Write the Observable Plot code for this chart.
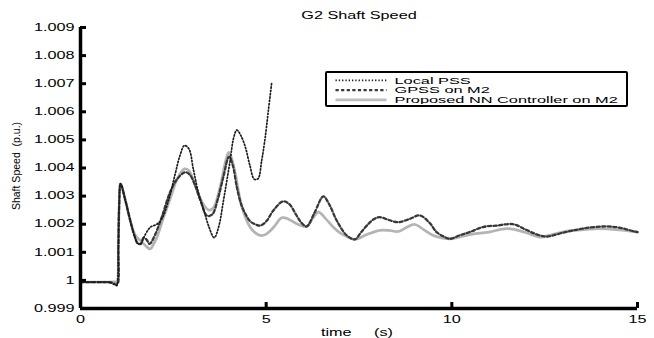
<!DOCTYPE html>
<html><head><meta charset="utf-8">
<script src="https://cdn.jsdelivr.net/npm/d3@7"></script>
<script src="https://cdn.jsdelivr.net/npm/@observablehq/plot@0.6"></script>
<style>
body{margin:0;background:#fff;}
#wrap{position:relative;width:654px;height:338px;font-family:"Liberation Sans",Arial,sans-serif;}
#legend{position:absolute;left:325px;top:71px;width:303px;height:36px;border:2.5px solid #000;border-radius:2px;box-sizing:border-box;overflow:hidden;background:#fff;}
#legend svg{display:block;}
</style></head><body><div id="wrap"><div id="chart"></div><div id="legend"></div></div>
<script>
const title = "G2 Shaft Speed";
const xLabel = "time\u00a0\u00a0\u00a0\u00a0\u00a0(s)";
const yLabel = "Shaft Speed\u00a0\u00a0(p.u.)";
const seriesNames = ["Local PSS", "GPSS on M2", "Proposed NN Controller on M2"];
const xDomain = [0, 15];
const yDomain = [0.999, 1.009];
const xTicks = [0, 5, 10, 15];
const yTicks = [0.999, 1.000, 1.001, 1.002, 1.003, 1.004, 1.005, 1.006, 1.007, 1.008, 1.009];

const localPSS = [[0,0.99994],[0.5,0.99994],[0.8,0.99993],[0.9,0.99986],[0.98,0.99982],[1.0,0.99995],[1.02,1.0012],[1.04,1.0026],[1.08,1.00344],[1.21,1.00284],[1.34,1.00213],[1.45,1.0016],[1.54,1.00132],[1.62,1.0013],[1.7,1.00152],[1.88,1.00189],[2.06,1.002],[2.19,1.00219],[2.37,1.00284],[2.55,1.00379],[2.68,1.00445],[2.8,1.0048],[2.92,1.00468],[3.04,1.00395],[3.18,1.0031],[3.32,1.0025],[3.46,1.0019],[3.6,1.00152],[3.72,1.0019],[3.85,1.00284],[4.03,1.00427],[4.12,1.00505],[4.21,1.00535],[4.32,1.00515],[4.44,1.00474],[4.56,1.0041],[4.68,1.0036],[4.78,1.00362],[4.88,1.00427],[4.97,1.00505],[5.06,1.00605],[5.15,1.00705]];

const gpssM2 = [[0,0.99994],[0.5,0.99994],[0.85,0.99992],[0.95,0.99986],[1.0,0.99988],[1.02,1.0012],[1.04,1.0026],[1.08,1.00344],[1.21,1.00284],[1.34,1.00213],[1.45,1.0016],[1.54,1.00132],[1.62,1.0013],[1.7,1.00152],[1.78,1.00145],[1.86,1.0013],[2.0,1.0016],[2.2,1.0023],[2.4,1.0031],[2.6,1.0036],[2.82,1.00385],[2.95,1.00375],[3.08,1.0034],[3.23,1.00284],[3.41,1.0023],[3.55,1.00235],[3.7,1.0029],[3.85,1.0037],[4.0,1.0044],[4.1,1.0041],[4.21,1.00332],[4.33,1.0027],[4.44,1.00237],[4.57,1.0021],[4.7,1.002],[4.84,1.00195],[5.0,1.0021],[5.2,1.0025],[5.45,1.00281],[5.62,1.00272],[5.8,1.00235],[5.95,1.00205],[6.09,1.00192],[6.3,1.0024],[6.54,1.00299],[6.7,1.0027],[6.9,1.00213],[7.17,1.0016],[7.39,1.00146],[7.55,1.0017],[7.71,1.00195],[7.9,1.00218],[8.06,1.00225],[8.3,1.00215],[8.56,1.00207],[8.85,1.00218],[9.14,1.00231],[9.4,1.00205],[9.59,1.00172],[9.8,1.00155],[9.95,1.00148],[10.2,1.0016],[10.48,1.00172],[10.84,1.0019],[11.2,1.00195],[11.65,1.002],[12.0,1.0018],[12.3,1.00163],[12.55,1.00156],[13.0,1.0017],[13.35,1.0018],[13.7,1.00188],[14.16,1.00192],[14.5,1.00188],[14.92,1.00174],[15,1.00172]];

const nnM2 = [[0,0.99994],[0.5,0.99994],[0.9,0.99995],[0.98,0.99996],[1.0,1.0],[1.02,1.0012],[1.04,1.0026],[1.08,1.00344],[1.21,1.00284],[1.34,1.00213],[1.48,1.0016],[1.66,1.00136],[1.78,1.0012],[1.88,1.00112],[1.97,1.0013],[2.06,1.00154],[2.24,1.00225],[2.46,1.00308],[2.6,1.0036],[2.8,1.00397],[2.92,1.0039],[3.04,1.00356],[3.2,1.003],[3.32,1.00268],[3.46,1.0025],[3.58,1.00258],[3.76,1.00332],[3.9,1.0042],[3.99,1.00456],[4.08,1.0043],[4.17,1.00379],[4.35,1.0026],[4.57,1.00189],[4.7,1.0017],[4.84,1.0016],[4.98,1.00163],[5.2,1.00189],[5.42,1.00223],[5.6,1.00218],[5.85,1.002],[6.09,1.00192],[6.25,1.0022],[6.41,1.00243],[6.6,1.0022],[6.81,1.00189],[7.0,1.00168],[7.17,1.00156],[7.39,1.00146],[7.71,1.00163],[8.06,1.00178],[8.3,1.00178],[8.56,1.00174],[8.8,1.0019],[9.0,1.00199],[9.25,1.0018],[9.5,1.0016],[9.95,1.00148],[10.48,1.00163],[11.0,1.00172],[11.5,1.00184],[12.0,1.0017],[12.37,1.00154],[12.7,1.00163],[13.08,1.00175],[13.5,1.0018],[13.98,1.00184],[14.5,1.0018],[15,1.00172]];

const styles = [
  {stroke:"#1c1c1c", strokeWidth:1.7, strokeDasharray:"1.3,2"},
  {stroke:"#383838", strokeWidth:2.3, strokeDasharray:"3.2,2.4"},
  {stroke:"#b4b4b4", strokeWidth:2.7, strokeDasharray:null}
];
const toRows = arr => arr.map(([t, v]) => ({t, v}));
const lineOpts = i => ({x:"t", y:"v", curve:"catmull-rom", stroke:styles[i].stroke, strokeWidth:styles[i].strokeWidth, ...(styles[i].strokeDasharray ? {strokeDasharray:styles[i].strokeDasharray} : {})});

const plot = Plot.plot({
  width:654, height:338, marginLeft:80, marginRight:17, marginTop:27, marginBottom:30,
  style:{fontFamily:"'Liberation Sans', Arial, sans-serif", fontSize:"10px", color:"#000", background:"#fff"},
  x:{domain:xDomain}, y:{domain:yDomain},
  marks:[
    Plot.line(toRows(nnM2), lineOpts(2)),
    Plot.line(toRows(gpssM2), lineOpts(1)),
    Plot.line(toRows(localPSS), lineOpts(0)),
    Plot.ruleX([xDomain[0]], {stroke:"#000", strokeWidth:3.5}),
    Plot.ruleY([yDomain[0]], {stroke:"#000", strokeWidth:3.5}),
    Plot.axisY(yTicks, {tickSize:-6, tickPadding:12, strokeWidth:3, stroke:"#000", fill:"#000", label:null, tickFormat:d => d === 1 ? "1" : d.toFixed(3)}),
    Plot.axisX(xTicks, {tickSize:-6, tickPadding:13, strokeWidth:3, stroke:"#000", fill:"#000", label:null, tickFormat:d => String(d)}),
    Plot.text([title], {frameAnchor:"top", textAnchor:"middle", lineAnchor:"middle", dy:-12, fill:"#000", fontSize:10}),
    Plot.text([xLabel], {frameAnchor:"bottom", textAnchor:"middle", lineAnchor:"middle", dy:24, dx:-2, fill:"#000", fontSize:10}),
    Plot.text([yLabel], {frameAnchor:"left", textAnchor:"middle", lineAnchor:"middle", dx:-64, dy:-2, rotate:-90, fill:"#000", fontSize:10.5})
  ]
});
document.getElementById("chart").appendChild(plot);

function stretch(root, k){
  root.querySelectorAll("text").forEach(t => {
    if (t.textContent === yLabel) return;
    const len = t.getComputedTextLength();
    if (!len) return;
    t.setAttribute("textLength", len * k);
    t.setAttribute("lengthAdjust", "spacingAndGlyphs");
  });
}
stretch(plot, 1.62);

// legend
const lg = d3.select("#legend").append("svg").attr("width", 298).attr("height", 31)
  .style("font-family", "'Liberation Sans', Arial, sans-serif").style("font-size", "8.6px");
const baseY = [10.6, 20.3, 30.0];
seriesNames.forEach((name, i) => {
  const s = styles[i];
  lg.append("line").attr("x1", 8.5).attr("x2", 59.5).attr("y1", baseY[i] - 3.2).attr("y2", baseY[i] - 3.2)
    .attr("stroke", i === 2 ? "#bdbdbd" : s.stroke).attr("stroke-width", s.strokeWidth)
    .attr("stroke-dasharray", s.strokeDasharray);
  lg.append("text").attr("x", 67.5).attr("y", baseY[i]).attr("fill", "#000").text(name);
});
stretch(lg.node(), 1.9);
</script></body></html>
